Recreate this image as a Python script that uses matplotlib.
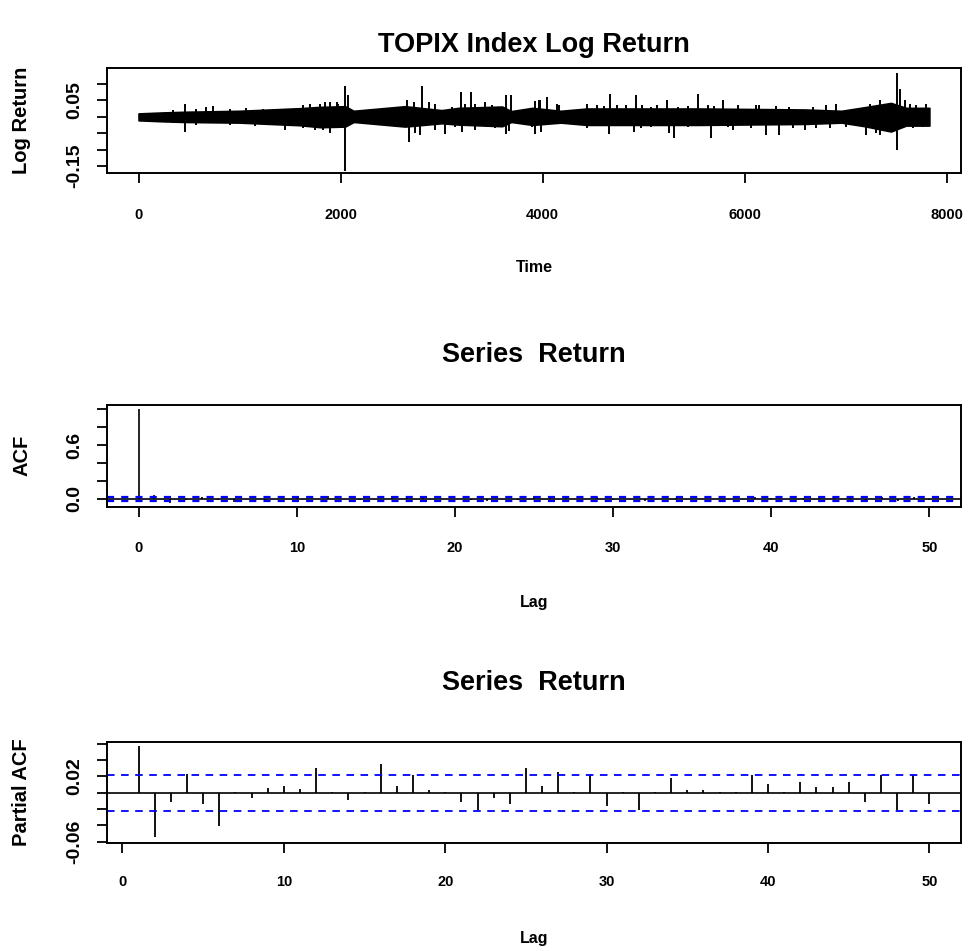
import matplotlib
matplotlib.use("Agg")
import matplotlib.pyplot as plt
from matplotlib import font_manager as fm

# ---------------- data ----------------
n_obs = 7830
# core band of the return series: knots, upper / lower extent
band_t  = [0, 240, 450, 1000, 1600, 1800, 2045, 2130, 2640, 3000, 3170, 3600, 3690,
           3900, 4180, 4440, 5550, 6600, 6960, 7190, 7450, 7600, 7830]
band_hi = [0.010, 0.013, 0.015, 0.018, 0.026, 0.030, 0.032, 0.018, 0.032, 0.020, 0.027, 0.031, 0.017,
           0.027, 0.018, 0.025, 0.025, 0.022, 0.018, 0.029, 0.042, 0.027, 0.027]
band_lo = [-0.011, -0.014, -0.016, -0.018, -0.026, -0.032, -0.030, -0.016, -0.030, -0.020, -0.024, -0.029, -0.016,
           -0.025, -0.018, -0.025, -0.025, -0.022, -0.018, -0.029, -0.045, -0.027, -0.027]
# isolated large moves (time, value)
spike_t = [457, 457, 572, 738, 1151, 1450, 1631, 1747, 1797, 1896, 1896,
           2045, 2045, 2078, 2657, 2680, 2790, 2806, 3037, 3196, 3203, 3295, 3434,
           3640, 3640, 3683, 3930, 3930, 3970, 3980, 4046, 4146, 4444, 4659, 4669,
           4742, 4907, 4925, 5231, 5254, 5304, 5542, 5668, 5784, 5883, 6147, 6213,
           6346, 6594, 6710, 6809, 6908, 7206, 7338, 7338, 7510, 7510, 7537, 7586, 7801,
           341, 341, 572, 672, 903, 903, 1069, 1234, 1300, 1366, 1631, 1697, 1830, 1846, 1962,
           1979, 2723, 2740, 2872, 2938, 2938, 3104, 3137, 3236, 3335, 3335, 3500, 3534,
           3666, 3798, 3898, 3964,
           4162, 4444, 4543, 4609, 4824, 4973, 4989, 5072, 5072, 5138, 5337, 5436, 5436,
           5635, 5701, 5833, 5932,
           6065, 6114, 6313, 6445, 6478, 6677, 6842, 7008, 7240, 7305, 7405, 7636, 7669, 7702, 7768]
spike_v = [0.038, -0.047, -0.024, 0.032, -0.028, -0.042, 0.035, -0.042, 0.040, 0.045, -0.049,
           0.093, -0.164, 0.065, 0.050, -0.077, -0.057, 0.093, -0.052, 0.075, -0.047, 0.075, 0.045,
           0.067, -0.052, 0.067, 0.047, -0.052, 0.050, -0.047, 0.060, 0.040, 0.040, -0.052, 0.070,
           0.037, -0.047, 0.065, 0.050, -0.049, -0.065, 0.070, -0.065, 0.050, -0.042, 0.037, -0.057,
           -0.057, -0.042, -0.035, 0.037, 0.040, -0.057, 0.050, -0.057, 0.134, -0.100, 0.085, 0.050, 0.040,
           0.020, -0.020, 0.025, 0.030, 0.025, -0.025, 0.028, 0.025, -0.025, 0.025, -0.035, 0.040, -0.040, 0.045, 0.045,
           0.040, 0.045, -0.050, 0.045, 0.040, -0.040, 0.030, -0.030, 0.040, 0.040, -0.040, 0.035, -0.035,
           -0.045, 0.020, -0.030, 0.050,
           0.035, -0.035, 0.035, 0.032, 0.035, -0.035, 0.035, 0.030, -0.030, 0.035, 0.030, 0.032, -0.030,
           0.035, 0.032, -0.032, 0.035,
           -0.035, 0.035, 0.032, 0.030, -0.035, 0.030, -0.035, -0.030, 0.040, -0.050, 0.040, 0.040, -0.035, 0.035, -0.032]

acf_lags = list(range(0, 51))
acf_vals = [1.0, 0.050, -0.045, -0.010, 0.020, -0.012, -0.038, 0.002, -0.006, 0.005, 0.007,
            0.004, 0.028, 0.001, -0.008, 0.001, 0.034, 0.007, 0.020, 0.003, 0.000,
            -0.010, -0.020, -0.005, -0.012, 0.028, 0.007, 0.024, 0.000, 0.020, -0.015,
            0.000, -0.020, 0.000, 0.016, 0.003, 0.003, 0.000, 0.000, 0.020, 0.009,
            0.000, 0.012, 0.006, 0.006, 0.012, -0.010, 0.020, -0.020, 0.020, -0.012]
pacf_lags = list(range(1, 51))
pacf_vals = [0.057, -0.055, -0.0115, 0.0225, -0.0143, -0.041, 0.001, -0.007, 0.0057, 0.0082,
             0.004, 0.0307, 0.0005, -0.009, 0.0005, 0.0356, 0.0082, 0.0217, 0.0033, 0.0005,
             -0.011, -0.0217, -0.006, -0.0135, 0.0299, 0.0082, 0.0254, 0.0005, 0.0217, -0.0164,
             0.0005, -0.0217, 0.0005, 0.0176, 0.0033, 0.0033, 0.0005, 0.0005, 0.0217, 0.0102,
             0.0005, 0.0131, 0.0074, 0.0074, 0.0131, -0.011, 0.0217, -0.0217, 0.0217, -0.0135]
conf = 0.0222

top_xticks = [0, 2000, 4000, 6000, 8000]
top_yticks = [0.10, 0.05, 0.00, -0.05, -0.10, -0.15]
top_ylabels = {0.05: "0.05", -0.15: "-0.15"}
acf_yticks = [0.0, 0.2, 0.4, 0.6, 0.8, 1.0]
acf_ylabels = {0.0: "0.0", 0.6: "0.6"}
pacf_yticks = [0.06, 0.04, 0.02, 0.00, -0.02, -0.04, -0.06]
pacf_ylabels = {0.02: "0.02", -0.06: "-0.06"}
lag_ticks = [0, 10, 20, 30, 40, 50]

# ---------------- fonts ----------------
names = {f.name for f in fm.fontManager.ttflist}
fam = ["Liberation Sans Narrow"] if "Liberation Sans Narrow" in names else ["Liberation Sans"]
plt.rcParams['font.family'] = fam + ["DejaVu Sans"]
plt.rcParams['font.weight'] = 'bold'

W, H = 973, 951
fig = plt.figure(figsize=(W / 100, H / 100), dpi=100)

def ax_at(x0, y0, x1, y1):
    return fig.add_axes([x0 / W, 1 - y1 / H, (x1 - x0) / W, (y1 - y0) / H])

XTICK_FS = 10.5
YTICK_FS = 14
XLAB_FS = 11.5
YLAB_FS = 14.5
TITLE_FS = 19.5

def style(ax, xpad):
    for s in ax.spines.values():
        s.set_linewidth(1.4)
    ax.tick_params(direction='out', length=7, width=1.3)
    ax.tick_params(axis='x', labelsize=XTICK_FS, pad=xpad)
    ax.tick_params(axis='y', labelsize=YTICK_FS, pad=10)
    for lab in ax.get_xticklabels() + ax.get_yticklabels():
        lab.set_fontweight('bold')

def set_yt(ax, ticks, labels):
    ax.set_yticks(ticks)
    ax.set_yticklabels([labels.get(t, "") for t in ticks], rotation=90, va='center',
                       fontweight='bold')

# ---------------- top: series ----------------
ax1 = ax_at(107, 68, 961, 173)
ax1.fill_between(band_t, band_hi, band_lo, color='black', linewidth=1.2, edgecolor='black')
ax1.vlines(spike_t, 0, spike_v, color='black', linewidth=1.4)
ax1.set_xlim(1 - 0.04 * (n_obs - 1), n_obs + 0.04 * (n_obs - 1))
ax1.set_ylim(-0.1716, 0.1485)
ax1.set_xticks(top_xticks)
ax1.set_xticklabels([str(t) for t in top_xticks], fontweight='bold')
set_yt(ax1, top_yticks, top_ylabels)
style(ax1, 18)

# ---------------- ACF ----------------
ax2 = ax_at(107, 405, 961, 506.7)
ax2.vlines(acf_lags, 0, acf_vals, color='black', linewidth=1.2)
ax2.axhline(0, color='black', linewidth=1.2)
for c in (conf, -conf):
    ax2.axhline(c, color='#0000ff', linewidth=1.6, dashes=(3.2, 3.2))
ax2.set_xlim(-2.0, 52.0)
ax2.set_ylim(-0.086, 1.049)
ax2.set_xticks(lag_ticks)
ax2.set_xticklabels([str(t) for t in lag_ticks], fontweight='bold')
set_yt(ax2, acf_yticks, acf_ylabels)
style(ax2, 18)

# ---------------- PACF ----------------
ax3 = ax_at(107, 741.7, 961, 843.3)
ax3.vlines(pacf_lags, 0, pacf_vals, color='black', linewidth=1.3)
ax3.axhline(0, color='black', linewidth=1.2)
for c in (conf, -conf):
    ax3.axhline(c, color='#0000ff', linewidth=1.3, dashes=(4.2, 3.6))
ax3.set_xlim(-0.96, 51.96)
ax3.set_ylim(-0.0622, 0.0627)
ax3.set_xticks(lag_ticks)
ax3.set_xticklabels([str(t) for t in lag_ticks], fontweight='bold')
set_yt(ax3, pacf_yticks, pacf_ylabels)
style(ax3, 16)

# ---------------- texts ----------------
cx = 534 / W
def ftxt(x, y, s, size, rot=0):
    fig.text(x, 1 - y / H, s, ha='center', va='center', fontsize=size,
             fontweight='bold', rotation=rot)

ftxt(cx, 45, "TOPIX Index Log Return", TITLE_FS)
ftxt(cx, 268, "Time", XLAB_FS)
ftxt(cx, 355, "Series  Return", TITLE_FS)
ftxt(cx, 603, "Lag", XLAB_FS)
ftxt(cx, 683, "Series  Return", TITLE_FS)
ftxt(cx, 938, "Lag", XLAB_FS)
ftxt(22 / W, 120, "Log Return", YLAB_FS, 90)
ftxt(22 / W, 455, "ACF", YLAB_FS, 90)
ftxt(22 / W, 792, "Partial ACF", YLAB_FS, 90)

fig.savefig("out.png", dpi=100)
